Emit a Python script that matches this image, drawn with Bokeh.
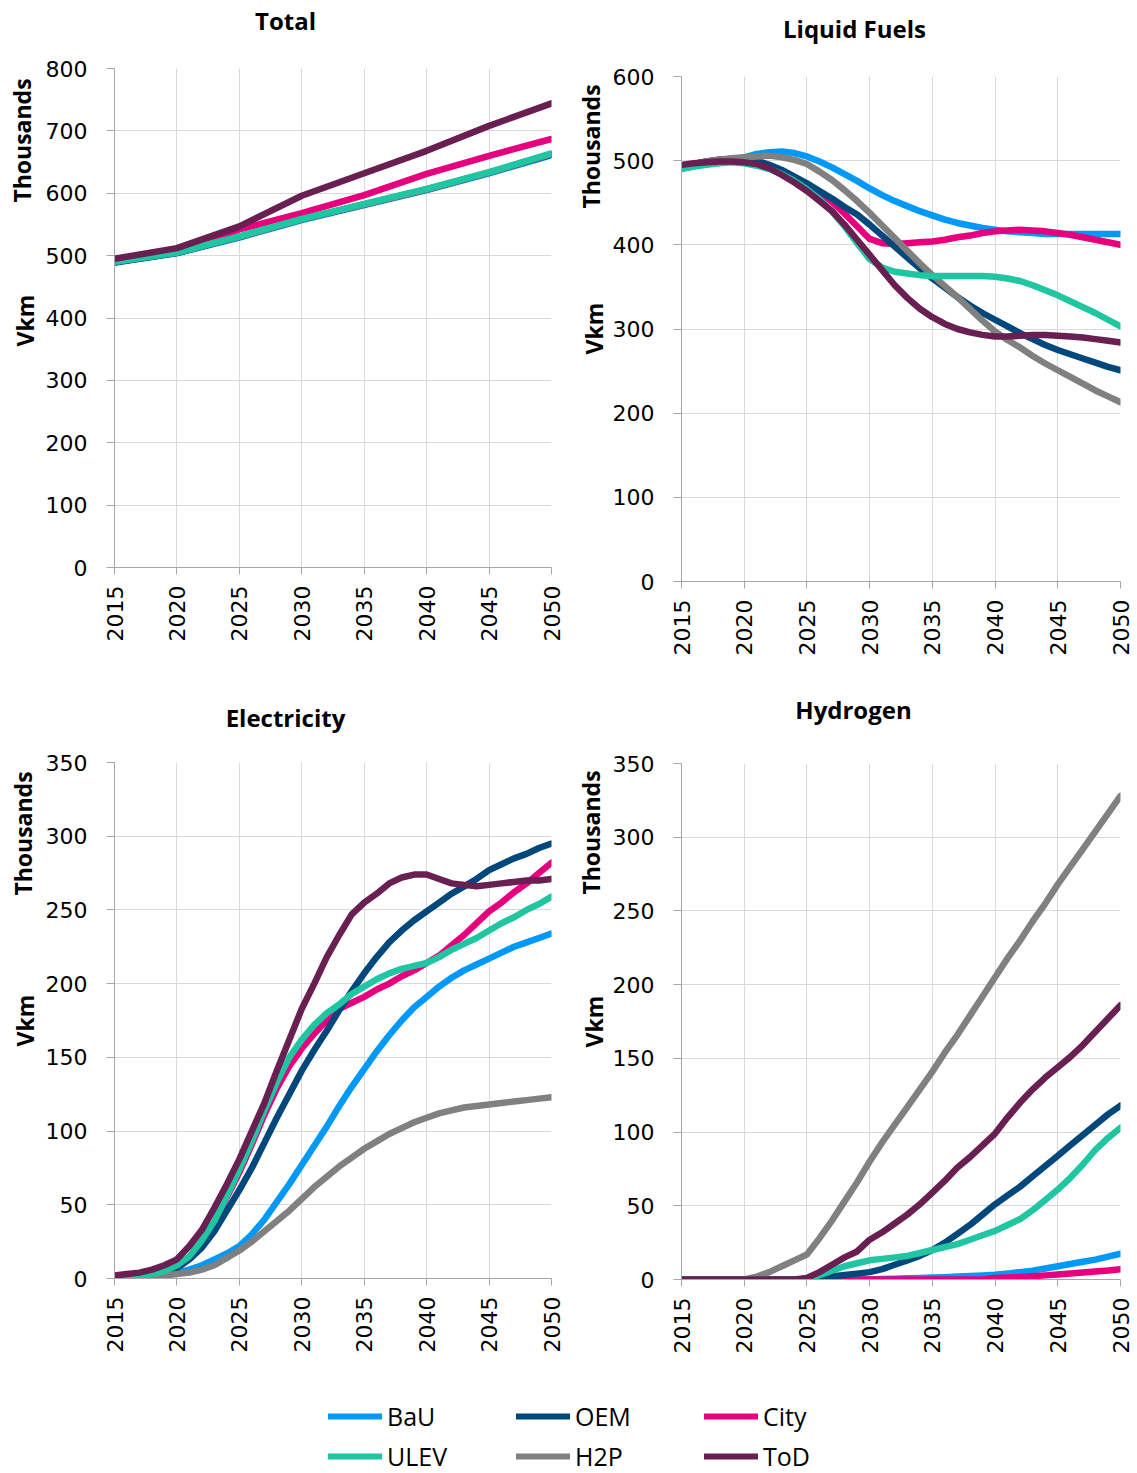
import math
from bokeh.plotting import figure
from bokeh.models import Range1d, FixedTicker, Legend, LegendItem
from bokeh.core.properties import value
from bokeh.layouts import column, row
from bokeh.embed import file_html
from bokeh.resources import INLINE

# ---------------- data ----------------
years = list(range(2015, 2051))
years5 = list(range(2015, 2051, 5))
x_ticks = [2015, 2020, 2025, 2030, 2035, 2040, 2045, 2050]

series_names = ["BaU", "OEM", "City", "ULEV", "H2P", "ToD"]
draw_order = ["BaU", "City", "OEM", "H2P", "ULEV", "ToD"]
colors = {"BaU": "#0099F7", "OEM": "#00487C", "City": "#E6007E",
          "ULEV": "#20C5A2", "H2P": "#808080", "ToD": "#6A1F52"}

# Total (5-year points)
total_bau = [489, 504, 529, 557, 581, 605, 632, 661]
total_oem = [489, 504, 530, 558, 582, 606, 633, 662]
total_city = [493, 507, 542, 568, 597, 631, 660, 687]
total_ulev = [490, 505, 531, 559, 583, 607, 634, 664]
total_h2p = [490, 505, 530, 558, 582, 606, 633, 663]
total_tod = [495, 512, 547, 596, 632, 668, 708, 744]

# Liquid fuels (annual)
liq_bau = [491, 494, 497, 499, 501, 504, 508, 510, 511, 509, 505, 499, 492, 484, 476, 467, 459, 452,
           446, 440, 435, 430, 426, 423, 420, 418, 416, 415, 414, 413, 413, 413, 413, 413, 413, 413]
liq_oem = [493, 496, 499, 501, 502, 502, 500, 495, 489, 481, 473, 464, 455, 445, 436, 424, 411, 398,
           385, 372, 360, 349, 338, 328, 319, 311, 303, 295, 288, 281, 275, 270, 265, 260, 255, 251]
liq_city = [493, 496, 499, 501, 502, 501, 497, 491, 484, 476, 469, 462, 451, 437, 422, 407, 402, 401,
            402, 403, 404, 406, 409, 411, 414, 416, 417, 418, 417, 416, 414, 412, 409, 406, 403, 400]
liq_ulev = [490, 493, 495, 497, 498, 497, 494, 490, 484, 476, 466, 454, 440, 422, 402, 383, 373, 368,
            366, 364, 363, 363, 363, 363, 363, 362, 360, 357, 352, 346, 340, 333, 326, 319, 311, 303]
liq_h2p = [493, 496, 499, 501, 503, 504, 505, 506, 504, 501, 496, 487, 477, 465, 452, 438, 423, 408,
           393, 378, 364, 351, 338, 324, 310, 297, 287, 278, 268, 259, 251, 243, 235, 227, 220, 213]
liq_tod = [495, 497, 498, 499, 499, 498, 496, 491, 483, 474, 464, 452, 440, 424, 406, 388, 370, 352,
           337, 324, 314, 306, 300, 296, 293, 291, 291, 292, 293, 293, 292, 291, 290, 288, 286, 284]

# Electricity (annual)
ele_bau = [0, 0, 1, 1, 2, 4, 6, 9, 13, 17, 22, 30, 40, 52, 64, 77, 90, 103,
           117, 130, 142, 154, 165, 175, 184, 191, 198, 204, 209, 213, 217, 221, 225, 228, 231, 234]
ele_oem = [0, 1, 2, 3, 5, 7, 13, 21, 32, 46, 60, 75, 92, 109, 125, 141, 155, 168,
           182, 195, 207, 218, 228, 236, 243, 249, 255, 261, 266, 271, 277, 281, 285, 288, 292, 295]
ele_city = [0, 1, 2, 3, 5, 8, 14, 25, 38, 55, 72, 91, 111, 129, 144, 156, 166, 175,
            183, 187, 191, 196, 200, 205, 209, 214, 219, 226, 233, 241, 249, 255, 262, 268, 275, 282]
ele_ulev = [0, 1, 2, 3, 5, 9, 15, 26, 39, 56, 74, 93, 114, 133, 150, 162, 172, 180,
            186, 193, 198, 203, 207, 210, 212, 214, 218, 223, 227, 231, 236, 241, 245, 250, 254, 259]
ele_h2p = [0, 0, 1, 1, 2, 3, 4, 6, 9, 14, 19, 25, 32, 39, 46, 54, 62, 69,
           76, 82, 88, 93, 98, 102, 106, 109, 112, 114, 116, 117, 118, 119, 120, 121, 122, 123]
ele_tod = [2, 3, 4, 6, 9, 13, 22, 33, 48, 64, 81, 100, 119, 141, 162, 183, 200, 218,
           233, 247, 255, 261, 268, 272, 274, 274, 271, 268, 267, 266, 267, 268, 269, 270, 270, 271]

# Hydrogen (annual)
hyd_bau = [0, 0, 0, 0, 0, 0, 0, 0, 0, 0, 0, 0, 0, 0, 0, 0, 0.3, 0.5,
           0.8, 1, 1.3, 1.6, 2, 2.4, 2.8, 3.3, 4, 5, 6, 7.5, 9, 10.5, 12, 13.5, 15.5, 17.5]
hyd_oem = [0, 0, 0, 0, 0, 0, 0, 0, 0, 0, 0, 1, 2, 3, 4, 5, 7, 10,
           13, 16, 20, 25, 31, 37, 44, 51, 57, 63, 70, 77, 84, 91, 98, 105, 112, 118]
hyd_city = [0, 0, 0, 0, 0, 0, 0, 0, 0, 0, 0, 0, 0, 0, 0, 0, 0, 0,
            0, 0, 0, 0, 0, 0, 0, 1, 1.3, 1.7, 2.2, 2.8, 3.4, 4, 4.7, 5.4, 6.1, 7]
hyd_ulev = [0, 0, 0, 0, 0, 0, 0, 0, 0, 0, 0, 3, 6, 9, 11, 13, 14, 15,
            16, 18, 20, 22, 24, 27, 30, 33, 37, 41, 47, 54, 61, 69, 78, 88, 96, 103]
hyd_h2p = [0, 0, 0, 0, 0, 0, 2, 5, 9, 13, 17, 28, 40, 53, 66, 80, 93, 105,
           117, 129, 141, 154, 166, 179, 192, 205, 218, 230, 243, 255, 268, 280, 292, 304, 316, 328]
hyd_tod = [0, 0, 0, 0, 0, 0, 0, 0, 0, 0, 1, 5, 10, 15, 19, 27, 32, 38,
           44, 51, 59, 67, 76, 83, 91, 99, 110, 120, 129, 137, 144, 151, 159, 168, 177, 186]

panel_titles = ["Total", "Liquid Fuels", "Electricity", "Hydrogen"]
y_label = "Vkm"
unit_label = "Thousands"

# ---------------- styling helpers ----------------
AXIS_GREY = "#A6A6A6"
GRID_GREY = "#D9D9D9"
PAGE_W = 1137
LINE_W = 6.5


def no_align(p):
    try:
        p.frame_align = False
    except Exception:
        pass
    return p


def blank_fig(width, height):
    f = figure(width=width, height=height, x_range=Range1d(0, width), y_range=Range1d(0, height),
               toolbar_location=None, output_backend="svg", min_border=0,
               x_axis_location=None, y_axis_location=None)
    f.grid.visible = False
    f.outline_line_color = None
    return no_align(f)


def header(height, xs, ys, texts):
    f = blank_fig(PAGE_W, height)
    f.text(x=xs, y=ys, text=texts, text_align="center", text_baseline="middle",
           text_font=value("Open Sans"), text_font_style="bold",
           text_font_size="24px", text_color="black")
    return f


def side(height, pos_units, pos_label):
    f = blank_fig(40, height)
    f.text(x=[pos_units[0], pos_label[0]], y=[pos_units[1], pos_label[1]],
           text=[unit_label, y_label], angle=math.pi / 2,
           text_align="center", text_baseline="middle",
           text_font=value("Open Sans"), text_font_style="bold",
           text_font_size="23px", text_color="black")
    return f


def make_panel(xs, data, ymax, ystep, width, height, borders):
    left, right, top, bottom = borders
    p = figure(width=width, height=height, x_range=Range1d(2015, 2050),
               y_range=Range1d(0, ymax), toolbar_location=None, output_backend="svg",
               min_border_left=left, min_border_right=right,
               min_border_top=top, min_border_bottom=bottom,
               background_fill_color="white", border_fill_color="white")
    no_align(p)
    p.outline_line_color = None

    yticks = list(range(0, ymax + 1, ystep))
    p.xaxis.ticker = FixedTicker(ticks=x_ticks)
    p.yaxis.ticker = FixedTicker(ticks=yticks)
    p.xgrid.ticker = FixedTicker(ticks=x_ticks)
    p.ygrid.ticker = FixedTicker(ticks=yticks)
    p.grid.grid_line_color = GRID_GREY
    p.grid.grid_line_width = 1

    for ax in (p.xaxis, p.yaxis):
        ax.axis_line_color = AXIS_GREY
        ax.major_tick_line_color = AXIS_GREY
        ax.minor_tick_line_color = None
        ax.major_tick_in = 0
        ax.major_label_text_font = "DejaVu Sans"
        ax.major_label_text_font_size = "22px"
        ax.major_label_text_color = "black"
    p.xaxis.major_tick_out = 7
    p.xaxis.major_label_standoff = 11
    p.xaxis.major_label_orientation = math.pi / 2
    p.yaxis.major_tick_out = 8
    p.yaxis.major_label_standoff = 19

    for name in draw_order:
        p.line(x=xs, y=data[name], line_color=colors[name], line_width=LINE_W,
               line_join="round", line_cap="round")
    return p


# ---- top: header (y 0..48) + panels (y 48..688) ----
h1 = header(48, [285, 854], [28, 20], [panel_titles[0], panel_titles[1]])
s1 = side(640, (21, 548), (24, 368))
p1 = make_panel(years5,
                {"BaU": total_bau, "OEM": total_oem, "City": total_city,
                 "ULEV": total_ulev, "H2P": total_h2p, "ToD": total_tod},
                800, 100, 528, 640, (74, 17, 20, 121))
s2 = side(640, (22, 542), (25, 360))
p2 = make_panel(years,
                {"BaU": liq_bau, "OEM": liq_oem, "City": liq_city,
                 "ULEV": liq_ulev, "H2P": liq_h2p, "ToD": liq_tod},
                600, 100, 529, 640, (73, 17, 28, 107))

# ---- bottom: header (y 688..735) + panels (y 735..1378) ----
h2 = header(47, [285, 853], [18, 26], [panel_titles[2], panel_titles[3]])
s3 = side(643, (22, 545), (24, 358))
p3 = make_panel(years,
                {"BaU": ele_bau, "OEM": ele_oem, "City": ele_city,
                 "ULEV": ele_ulev, "H2P": ele_h2p, "ToD": ele_tod},
                350, 50, 528, 643, (74, 17, 27, 100))
s4 = side(643, (22, 546), (25, 357))
p4 = make_panel(years,
                {"BaU": hyd_bau, "OEM": hyd_oem, "City": hyd_city,
                 "ULEV": hyd_ulev, "H2P": hyd_h2p, "ToD": hyd_tod},
                350, 50, 529, 643, (73, 17, 28, 99))

# ---------------- legend (y 1378..1472) ----------------
pleg = figure(width=PAGE_W, height=94, x_range=Range1d(0, 1), y_range=Range1d(0, 1),
              toolbar_location=None, output_backend="svg", min_border=0,
              x_axis_location=None, y_axis_location=None)
no_align(pleg)
pleg.grid.visible = False
pleg.outline_line_color = None
legend_src = {"BaU": total_bau, "OEM": total_oem, "City": total_city,
              "ULEV": total_ulev, "H2P": total_h2p, "ToD": total_tod}
items = []
for name in series_names:
    # real series drawn outside the visible range: only the legend swatch shows
    r = pleg.line(x=years5, y=legend_src[name], line_color=colors[name], line_width=6,
                  line_cap="round")
    items.append(LegendItem(label=name, renderers=[r]))
legend = Legend(items=items, orientation="horizontal", ncols=3, location=(328, -4),
                glyph_width=54, glyph_height=40, label_height=40, label_width=129,
                label_standoff=5, spacing=0, padding=0, margin=0,
                border_line_color=None, background_fill_alpha=0,
                label_text_font="Open Sans", label_text_font_size="25px",
                label_text_color="black")
pleg.add_layout(legend, "center")

layout = column(h1, row(s1, p1, s2, p2), h2, row(s3, p3, s4, p4), pleg)
open("out.html", "w").write(file_html(layout, INLINE))
